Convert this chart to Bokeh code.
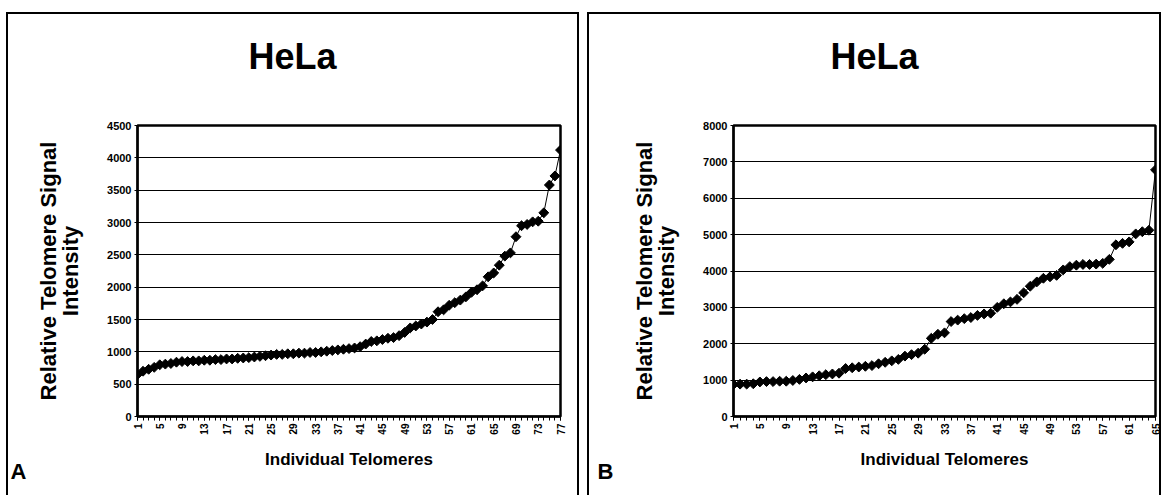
import math
from bokeh.plotting import figure
from bokeh.layouts import row
from bokeh.models import FixedTicker, Title, InlineStyleSheet
from bokeh.embed import file_html
from bokeh.resources import INLINE

# ---------------- data ----------------
telomeres_a = list(range(1, 78))
intensity_a = [650, 700, 730, 760, 800, 810, 820, 840, 850, 850,
               860, 860, 870, 870, 880, 880, 890, 890, 900, 905,
               910, 920, 930, 940, 950, 960, 960, 970, 970, 980,
               980, 990, 990, 1000, 1010, 1020, 1030, 1040, 1050, 1060,
               1080, 1120, 1160, 1170, 1190, 1210, 1220, 1250, 1300, 1370,
               1400, 1430, 1460, 1500, 1620, 1650, 1720, 1760, 1800, 1850,
               1920, 1960, 2020, 2160, 2220, 2340, 2480, 2530, 2780, 2950,
               2970, 3010, 3020, 3150, 3580, 3720, 4120]
xticks_a = [1, 5, 9, 13, 17, 21, 25, 29, 33, 37, 41, 45, 49, 53, 57, 61, 65, 69, 73, 77]
yticks_a = [0, 500, 1000, 1500, 2000, 2500, 3000, 3500, 4000, 4500]

telomeres_b = list(range(1, 66))
intensity_b = [880, 890, 890, 900, 950, 960, 960, 970, 970, 990,
               1020, 1060, 1090, 1120, 1150, 1170, 1190, 1320, 1340, 1360,
               1380, 1400, 1450, 1490, 1530, 1570, 1660, 1700, 1740, 1850,
               2150, 2260, 2300, 2610, 2650, 2690, 2720, 2780, 2820, 2840,
               3000, 3100, 3150, 3220, 3400, 3580, 3700, 3800, 3840, 3880,
               4030, 4120, 4160, 4180, 4180, 4190, 4210, 4320, 4720, 4760,
               4800, 5020, 5080, 5120, 6780]
xticks_b = [1, 5, 9, 13, 17, 21, 25, 29, 33, 37, 41, 45, 49, 53, 57, 61, 65]
yticks_b = [0, 1000, 2000, 3000, 4000, 5000, 6000, 7000, 8000]

title_text = "HeLa"
ylabel_text = "Relative Telomere Signal\nIntensity"
xlabel_text = "Individual Telomeres"
FONT = "Liberation Sans"


def panel(xs, ys, xticks, yticks, letter, border_left, border_right,
          box_left, box_width, title_offset, letter_offset):
    W, H = 581, 495
    p = figure(width=W, height=H, output_backend="svg", toolbar_location=None,
               x_range=(xs[0], xs[-1]), y_range=(yticks[0], yticks[-1]),
               min_border_left=border_left, min_border_right=border_right,
               min_border_top=125, min_border_bottom=79)
    p.background_fill_color = "white"
    p.border_fill_color = "white"
    p.outline_line_color = "black"
    p.outline_line_width = 2.5

    p.xgrid.visible = False
    p.ygrid.grid_line_color = "black"
    p.ygrid.grid_line_width = 1
    p.ygrid.ticker = FixedTicker(ticks=yticks)

    xa = p.xaxis[0]
    xa.ticker = FixedTicker(ticks=xticks, minor_ticks=xs)
    xa.major_label_orientation = math.pi / 2
    xa.major_label_text_font = FONT
    xa.major_label_text_font_size = "10px"
    xa.major_label_text_font_style = "bold"
    xa.major_label_text_color = "black"
    xa.major_label_standoff = 3
    xa.major_tick_in = 0
    xa.major_tick_out = 4
    xa.minor_tick_in = 0
    xa.minor_tick_out = 4
    xa.axis_line_width = 2
    xa.axis_label = xlabel_text
    xa.axis_label_text_font = FONT
    xa.axis_label_text_font_size = "17px"
    xa.axis_label_text_font_style = "bold"
    xa.axis_label_text_color = "black"
    xa.axis_label_standoff = 12

    ya = p.yaxis[0]
    ya.ticker = FixedTicker(ticks=yticks)
    ya.major_label_text_font = FONT
    ya.major_label_text_font_size = "11px"
    ya.major_label_text_font_style = "bold"
    ya.major_label_text_color = "black"
    ya.major_label_standoff = 3
    ya.major_tick_in = 0
    ya.major_tick_out = 3
    ya.minor_tick_line_color = None
    ya.axis_line_width = 2
    ya.axis_label = ylabel_text
    ya.axis_label_text_font = FONT
    ya.axis_label_text_font_size = "22px"
    ya.axis_label_text_font_style = "bold"
    ya.axis_label_text_color = "black"
    ya.axis_label_text_line_height = 0.9
    ya.axis_label_standoff = 21

    p.line(xs, ys, line_color="black", line_width=1)
    p.scatter(xs, ys, marker="square", angle=math.pi / 4, size=7,
              fill_color="black", line_color="black")

    # panel title centred over the panel box (empty 2nd line lifts it up)
    p.add_layout(Title(text=title_text + "\n ", align="left", offset=title_offset,
                       text_font=FONT, text_font_size="36px", text_font_style="bold",
                       text_color="black", standoff=16), "above")
    # panel letter in the lower-left corner
    p.add_layout(Title(text=letter, align="left", offset=letter_offset,
                       vertical_align="middle",
                       text_font=FONT, text_font_size="22px", text_font_style="bold",
                       text_color="black", standoff=-32), "below")

    css = (":host { position: relative; }"
           ":host::after { content: ''; position: absolute; left: %dpx; top: 12px;"
           " width: %dpx; height: 483px; border: 2px solid black; border-bottom: none;"
           " box-sizing: border-box; pointer-events: none; }" % (box_left, box_width))
    p.stylesheets = [InlineStyleSheet(css=css)]
    return p


pa = panel(telomeres_a, intensity_a, xticks_a, yticks_a, "A", 137, 21, 6, 573, 111, -127)
pb = panel(telomeres_b, intensity_b, xticks_b, yticks_b, "B", 152, 7, 6, 574, 97, -136)

layout = row(pa, pb, spacing=0)
open("out.html", "w").write(file_html(layout, INLINE))
